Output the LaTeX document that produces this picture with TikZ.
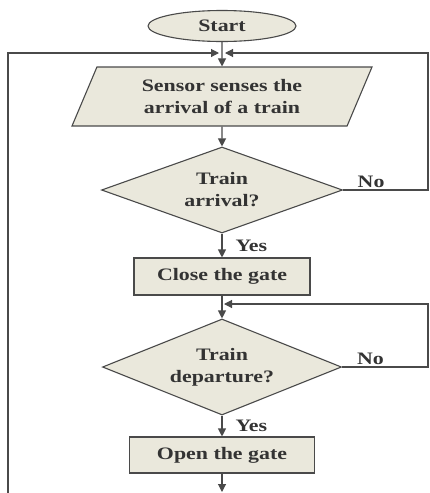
\documentclass[tikz,border=0pt]{standalone}
\usepackage{fontspec}
\setmainfont{Liberation Serif}[FakeStretch=1.25]
\usetikzlibrary{shapes.geometric,arrows.meta,positioning}

\definecolor{boxfill}{HTML}{EAE8DC}
\definecolor{boxline}{HTML}{4A4A4A}
\definecolor{txt}{HTML}{333333}

\tikzset{
  >={Triangle[length=8pt,width=8pt]},
  every node/.style={font=\fontsize{17.5}{22}\selectfont\bfseries, text=txt},
  base/.style={draw=boxline, fill=boxfill, line width=1.1pt, inner sep=0pt, align=center},
  startend/.style={base, ellipse, minimum width=148pt, minimum height=31pt},
  io/.style={base, trapezium, trapezium left angle=54, trapezium right angle=126,
    trapezium stretches body, minimum width=300pt, minimum height=59pt},
  decision/.style={base, diamond, aspect=2.5, minimum width=241pt, minimum height=90pt},
  process/.style={base, rectangle, minimum height=37pt},
  lbl/.style={inner sep=2pt},
  line/.style={draw=boxline, line width=1.1pt}
}

\begin{document}
\begin{tikzpicture}[x=1pt,y=-1pt]
  \useasboundingbox (0,0) rectangle (429,493);

  % Flowchart blocks
  \node[startend] (start) at (222,26) {Start};
  \node[io] (sense) at (222,96.5) {Sensor senses the\\arrival of a train};
  \node[decision, minimum height=86pt] (arr) at (222,190) {Train\\arrival?};
  \node[process, minimum width=176pt] (close) at (222,276.5) {Close the gate};
  \node[decision, minimum width=239pt, minimum height=96pt] (dep) at (222,367) {Train\\departure?};
  \node[process, minimum width=185pt, minimum height=36pt] (open) at (222,455) {Open the gate};

  % Loop corners
  \coordinate (bot) at (222,492);
  \coordinate (lbot) at (8,493);
  \coordinate (ltop) at (8,53);
  \coordinate (ljoin) at (219,53);
  \coordinate (rtop) at (428,53);
  \coordinate (rjoin) at (225,53);
  \coordinate (rarr) at (428,190);
  \coordinate (rdep) at (428,367);
  \coordinate (rback) at (428,304);
  \coordinate (join) at (224,304);

  % Main flow
  \draw[line,->] (start) -- (sense);
  \draw[line,->] (sense) -- (arr);
  \draw[line,->] (arr) -- node[lbl,right=11pt] (yes1) {Yes} (close);
  \draw[line,->] (close) -- (dep);
  \draw[line,->] (dep) -- node[lbl,right=11pt] (yes2) {Yes} (open);
  \draw[line,->] (open) -- (bot);

  % Return paths
  \draw[line,->] (lbot) -- (ltop) -- (ljoin);
  \draw[line,->] (arr.east) -- node[lbl,above,pos=0.33] (no1) {No} (rarr) -- (rtop) -- (rjoin);
  \draw[line,->] (dep.east) -- node[lbl,above,pos=0.33] (no2) {No} (rdep) -- (rback) -- (join);
\end{tikzpicture}
\end{document}
